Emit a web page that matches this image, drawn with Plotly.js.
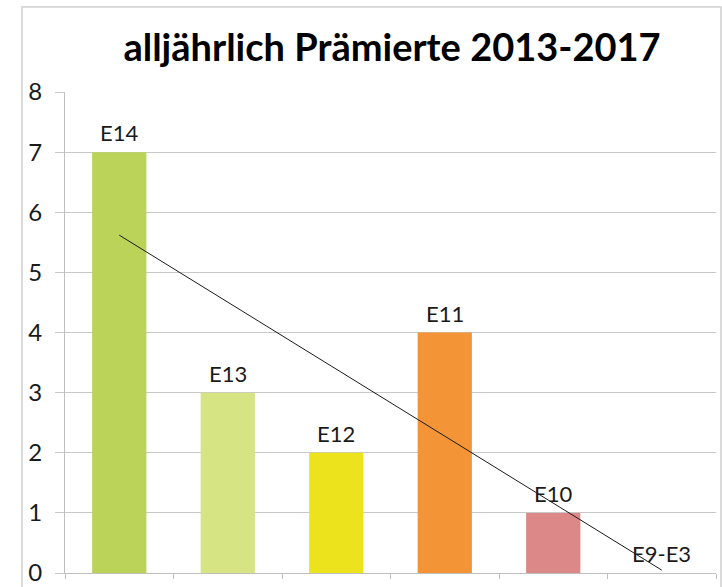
<!DOCTYPE html>
<html>
<head>
<meta charset="utf-8">
<script src="https://cdn.plot.ly/plotly-3.0.1.min.js"></script>
<style>html,body{margin:0;padding:0;background:#fff;}#chart{width:722px;height:587px;}</style>
</head>
<body>
<div id="chart"></div>
<script>
// Data
const categories = ["E14", "E13", "E12", "E11", "E10", "E9-E3"];
const values = [7, 3, 2, 4, 1, 0];
const barColors = ["#bcd35a", "#d6e484", "#ede31c", "#f39436", "#dc8888", "#cccccc"];
const yTicks = [0, 1, 2, 3, 4, 5, 6, 7, 8];

// Category positions (1..n) on a numeric axis
const xPos = categories.map((_, i) => i + 1);

// Linear trendline (least squares fit of the values, as the spreadsheet drew it)
const n = values.length;
const mx = xPos.reduce((a, b) => a + b, 0) / n;
const my = values.reduce((a, b) => a + b, 0) / n;
let sxy = 0, sxx = 0;
for (let i = 0; i < n; i++) { sxy += (xPos[i] - mx) * (values[i] - my); sxx += (xPos[i] - mx) ** 2; }
const slope = sxy / sxx;
const intercept = my - slope * mx;
const trendX = [xPos[0], xPos[n - 1]];
const trendY = trendX.map(x => intercept + slope * x);

const font = "Lato, 'Open Sans', 'Liberation Sans', sans-serif";

const traces = [
  {
    type: "bar",
    x: xPos,
    y: values,
    width: 0.5,
    marker: { color: barColors, line: { width: 0 } },
    hoverinfo: "skip"
  },
  {
    type: "scatter",
    mode: "lines",
    x: trendX,
    y: trendY,
    line: { color: "#1a1a1a", width: 1 },
    hoverinfo: "skip"
  }
];

const annotations = categories.map((c, i) => ({
  x: xPos[i], y: values[i], xref: "x", yref: "y",
  text: c, showarrow: false, yanchor: "bottom", yshift: 4,
  font: { family: font, size: 22, color: "#1a1a1a" }
}));

const layout = {
  width: 722, height: 587,
  margin: { l: 65, r: 6, t: 92, b: 14 },
  paper_bgcolor: "#ffffff", plot_bgcolor: "#ffffff",
  showlegend: false,
  title: {
    text: "<b>alljährlich Prämierte 2013-2017</b>",
    font: { family: font, size: 38, color: "#000000" },
    x: 0.543, xanchor: "center", y: 0.918, yanchor: "middle"
  },
  xaxis: {
    range: [0.5, 6.5],
    tickvals: [0.5, 1.5, 2.5, 3.5, 4.5, 5.5, 6.5],
    ticktext: ["", "", "", "", "", "", ""],
    ticks: "outside", ticklen: 5, tickcolor: "#bfbfbf", tickwidth: 1,
    showline: true, linecolor: "#bfbfbf", linewidth: 1,
    showgrid: false, zeroline: false, fixedrange: true
  },
  yaxis: {
    range: [0, 8],
    tickvals: yTicks,
    ticks: "outside", ticklen: 9, tickcolor: "#c8c8c8", tickwidth: 1,
    showline: true, linecolor: "#bfbfbf", linewidth: 1,
    showgrid: true, gridcolor: "#c8c8c8", gridwidth: 1,
    zeroline: false,
    tickfont: { family: font, size: 24, color: "#1a1a1a" },
    ticklabelstandoff: 8,
    fixedrange: true
  },
  shapes: [
    {
      type: "rect", xref: "paper", yref: "paper",
      x0: -0.066, x1: 1.0077, y0: -0.05, y1: 1.1767,
      line: { color: "#cfcfcf", width: 1.5 }, fillcolor: "rgba(0,0,0,0)", layer: "below"
    }
  ],
  annotations: annotations
};

Plotly.newPlot("chart", traces, layout, { staticPlot: true, displayModeBar: false });
</script>
</body>
</html>
